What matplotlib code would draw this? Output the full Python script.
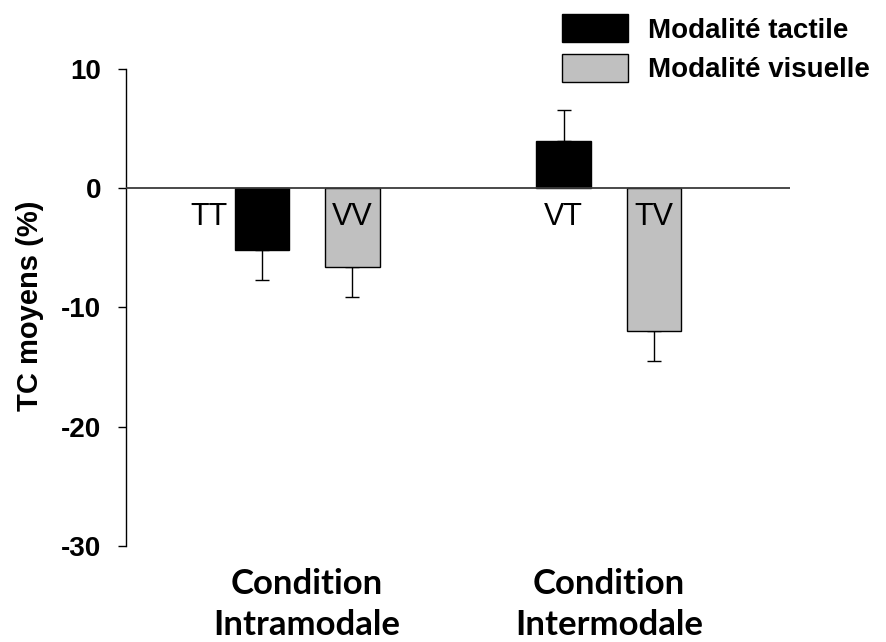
import matplotlib
matplotlib.use("Agg")
import matplotlib.pyplot as plt
from matplotlib.patches import Patch

# Moyennes et erreurs-types des TC (%) par condition
conditions = ["Condition\nIntramodale", "Condition\nIntermodale"]
labels_tactile = ["TT", "VT"]
labels_visuel = ["VV", "TV"]
tc_tactile = [-5.2, 4.0]
tc_visuel = [-6.6, -12.0]
err_tactile = [2.5, 2.6]
err_visuel = [2.5, 2.5]

NOIR = "#000000"
GRIS = "#c0c0c0"

group_x = [0.5, 3.87]
off = 0.505
w = 0.61

fig = plt.figure(figsize=(8.87, 6.42), dpi=100)
ax = fig.add_axes([0.142, 0.150, 0.7486, 0.7425])

x_t = [g - off for g in group_x]
x_v = [g + off for g in group_x]

ax.bar(x_t, tc_tactile, width=w, color=NOIR, edgecolor="black", lw=1, zorder=3)
ax.bar(x_v, tc_visuel, width=w, color=GRIS, edgecolor="black", lw=1, zorder=3)


def one_sided(vals, errs):
    lo = [e if v < 0 else 0 for v, e in zip(vals, errs)]
    hi = [e if v >= 0 else 0 for v, e in zip(vals, errs)]
    return [lo, hi]


for xs, vals, errs in [(x_t, tc_tactile, err_tactile), (x_v, tc_visuel, err_visuel)]:
    ax.errorbar(xs, vals, yerr=one_sided(vals, errs), fmt="none", ecolor="black",
                elinewidth=1, capsize=5, capthick=1, zorder=2)

ax.axhline(0, color="#3a3a3a", lw=1.3, zorder=4)

# étiquettes des conditions (TT, VV, VT, TV)
ax.text(x_t[0] - 0.587, -3.1, labels_tactile[0], ha="center", va="baseline",
        fontsize=22, family="Liberation Sans", zorder=5)
ax.text(x_t[1], -3.1, labels_tactile[1], ha="center", va="baseline",
        fontsize=22, family="Liberation Sans", zorder=5)
for xv, lab in zip(x_v, labels_visuel):
    ax.text(xv, -3.1, lab, ha="center", va="baseline",
            fontsize=22, family="Liberation Sans", zorder=5)

ax.set_xlim(-1.525, 5.894)
ax.set_ylim(-30, 10)
ax.set_yticks([-30, -20, -10, 0, 10])
ax.set_yticklabels(["-30", "-20", "-10", "0", "10"], fontsize=20,
                   fontweight="bold", family="Liberation Sans")
ax.tick_params(axis="y", direction="out", length=6, width=1, pad=12)

ax.set_xticks(group_x)
ax.set_xticklabels(conditions, fontsize=25, fontweight="bold", family="Lato",
                   linespacing=1.34)
ax.tick_params(axis="x", length=0, pad=16)

for s in ["top", "right", "bottom"]:
    ax.spines[s].set_visible(False)
ax.spines["left"].set_linewidth(1)

fig.text(30 / 887, 1 - 306 / 642, "TC moyens (%)", rotation=90, ha="center",
         va="center", fontsize=21, fontweight="bold", family="Liberation Sans")

handles = [Patch(facecolor=NOIR, edgecolor="black", lw=1, label="Modalité tactile"),
           Patch(facecolor=GRIS, edgecolor="black", lw=1, label="Modalité visuelle")]
ax.legend(handles=handles, loc="upper left",
          bbox_to_anchor=(562 / 887, 1 - 14 / 642), bbox_transform=fig.transFigure,
          frameon=False, borderpad=0, borderaxespad=0,
          handlelength=2.37, handleheight=1.2, handletextpad=0.72,
          labelspacing=0.36,
          prop={"family": "Liberation Sans", "weight": "bold", "size": 20})

fig.savefig("out.png", dpi=100)
